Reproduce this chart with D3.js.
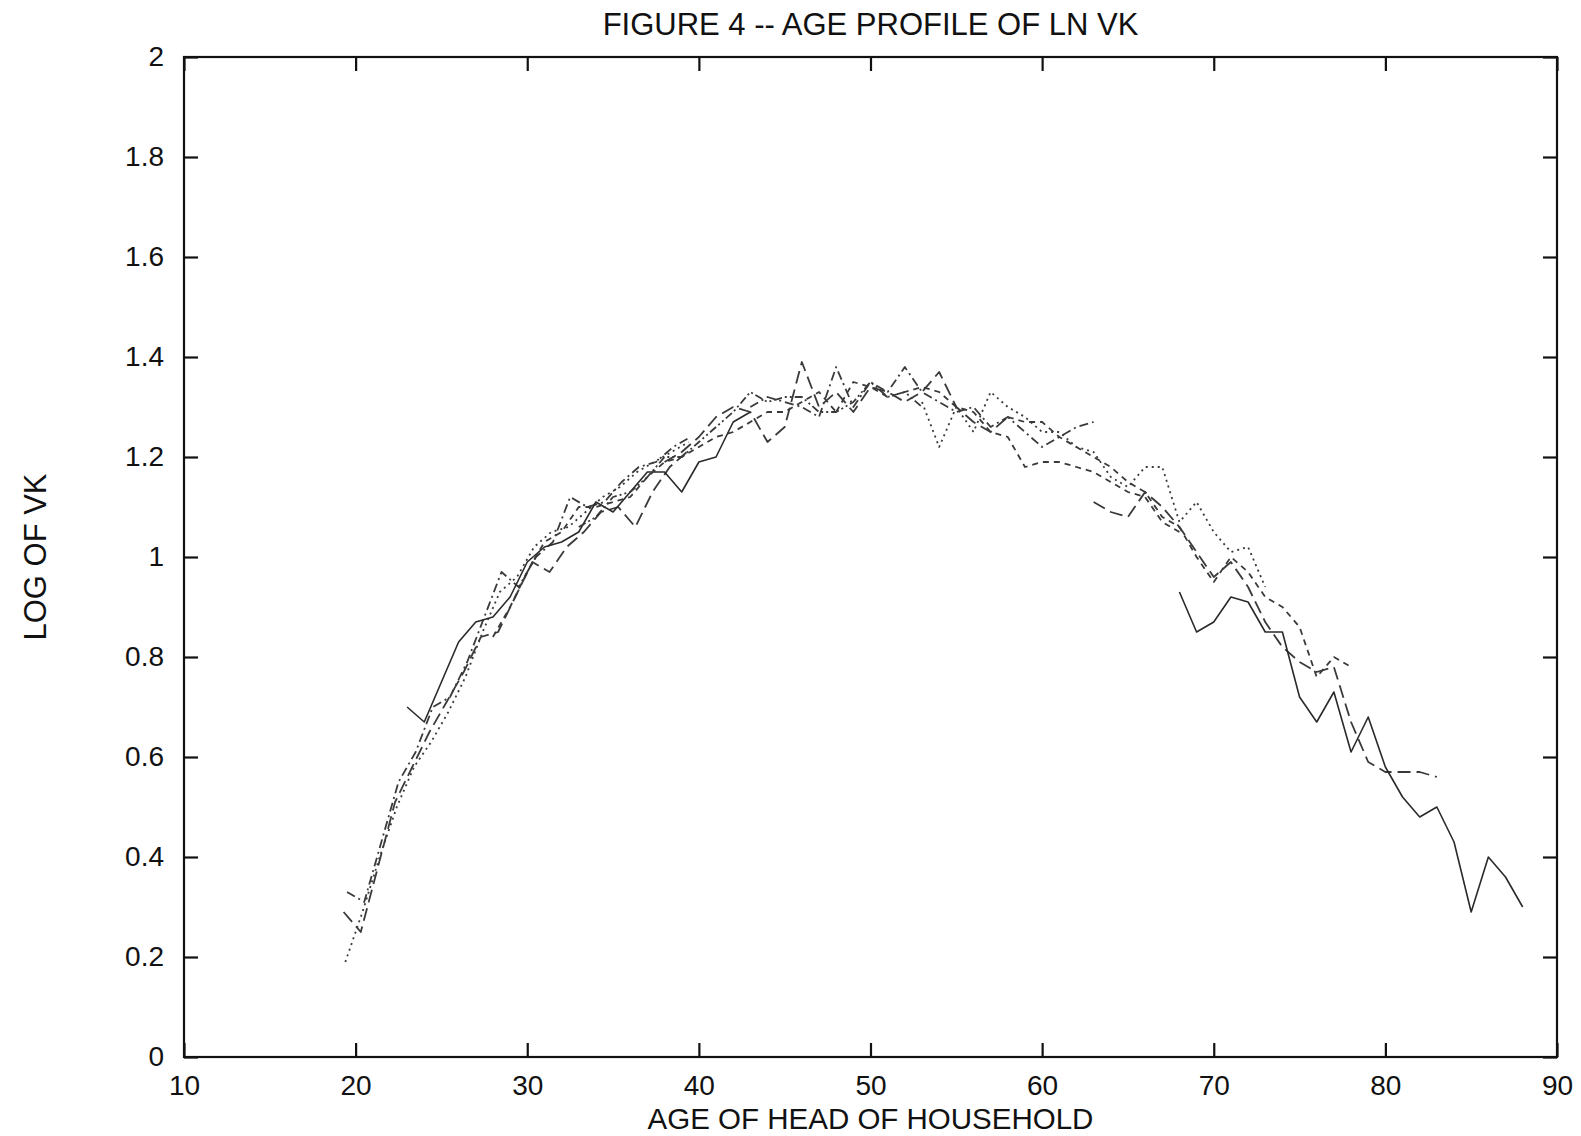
<!DOCTYPE html>
<html>
<head>
<meta charset="utf-8">
<script src="https://cdn.jsdelivr.net/npm/d3@7"></script>
<style>
  html, body { margin: 0; padding: 0; background: #fff; }
  svg { display: block; }
  text { font-family: "Liberation Sans", Arial, sans-serif; fill: #111; }
</style>
</head>
<body>
<svg id="chart" width="1581" height="1136"></svg>
<script>
// ---- data ----
const titleText = "FIGURE 4 -- AGE PROFILE OF LN VK";
const xLabel = "AGE OF HEAD OF HOUSEHOLD";
const yLabel = "LOG OF VK";
const xTicks = [10, 20, 30, 40, 50, 60, 70, 80, 90];
const yTicks = [0, 0.2, 0.4, 0.6, 0.8, 1, 1.2, 1.4, 1.6, 1.8, 2];

// first age of each cohort profile (one point per year after that)
const cohortStartAge = [19.4, 19.5, 19.3, 23, 28, 33, 38, 43, 48, 53, 58, 63, 68];

const cohort1  = [0.19,0.29,0.40,0.50,0.58,0.63,0.69,0.76,0.85,0.93,0.96,1.02,1.05,1.06,1.09,1.12,1.14,1.17,1.19,1.21,1.23];
const cohort2  = [0.33,0.31,0.43,0.55,0.61,0.70,0.72,0.79,0.88,0.97,0.94,1.00,1.03,1.12,1.10,1.11,1.15,1.18,1.19,1.22,1.24];
const cohort3  = [0.29,0.25,0.38,0.51,0.58,0.65,0.71,0.77,0.84,0.85,0.92,0.99,0.97,1.02,1.05,1.09,1.10,1.06,1.13,1.18,1.21];
const cohort4  = [0.70,0.67,0.75,0.83,0.87,0.88,0.92,0.99,1.02,1.03,1.05,1.11,1.09,1.13,1.17,1.17,1.13,1.19,1.20,1.27,1.29];
const cohort5  = [0.84,0.90,0.97,1.03,1.05,1.10,1.10,1.11,1.12,1.16,1.19,1.20,1.22,1.24,1.25,1.27,1.29,1.29,1.31,1.33,1.29];
const cohort6  = [1.06,1.08,1.12,1.13,1.16,1.20,1.20,1.23,1.26,1.29,1.33,1.31,1.32,1.32,1.29,1.29,1.31,1.35,1.32,1.33,1.30];
const cohort7  = [1.19,1.21,1.24,1.28,1.30,1.29,1.23,1.26,1.39,1.30,1.33,1.29,1.34,1.33,1.31,1.33,1.37,1.30,1.27,1.25,1.28];
const cohort8  = [1.30,1.32,1.31,1.30,1.28,1.38,1.30,1.35,1.33,1.38,1.33,1.31,1.29,1.30,1.26,1.28,1.25,1.22,1.24,1.26,1.27];
const cohort9  = [1.29,1.35,1.34,1.32,1.33,1.34,1.33,1.30,1.29,1.25,1.24,1.18,1.19,1.19,1.18,1.17,1.15,1.13,1.12,1.07,1.05];
const cohort10 = [1.31,1.22,1.30,1.25,1.33,1.30,1.28,1.25,1.25,1.22,1.21,1.16,1.14,1.18,1.18,1.07,1.11,1.05,1.01,1.02,0.94];
const cohort11 = [1.28,1.27,1.27,1.24,1.22,1.20,1.18,1.15,1.13,1.08,1.06,1.00,0.95,1.00,0.97,0.92,0.90,0.86,0.76,0.80,0.78];
const cohort12 = [1.11,1.09,1.08,1.13,1.10,1.06,1.01,0.96,0.99,0.94,0.87,0.82,0.79,0.77,0.78,0.67,0.59,0.57,0.57,0.57,0.56];
const cohort13 = [0.93,0.85,0.87,0.92,0.91,0.85,0.85,0.72,0.67,0.73,0.61,0.68,0.58,0.52,0.48,0.50,0.43,0.29,0.40,0.36,0.30];

const cohortValues = [cohort1, cohort2, cohort3, cohort4, cohort5, cohort6, cohort7,
                      cohort8, cohort9, cohort10, cohort11, cohort12, cohort13];

// ---- styles (kept apart from the data) ----
const DOT = "2,4", DASHDOT = "9,4,2,4", LONG = "13,6", SHORT = "6,5", DDD = "8,3,2,3,2,3", SOLID = null;
const lineDash = [DOT, DASHDOT, LONG, SOLID, SHORT, DDD, LONG, DASHDOT, SHORT, DOT, SHORT, LONG, SOLID];

// ---- layout ----
const L = 184, R = 1557, T = 57, B = 1057;
const svg = d3.select("#chart");

const x = d3.scaleLinear().domain([10, 90]).range([L, R]);
const y = d3.scaleLinear().domain([0, 2]).range([B, T]);

// series
const line = d3.line().x(d => x(d[0])).y(d => y(d[1]));
const series = cohortValues.map((vals, i) => vals.map((v, j) => [cohortStartAge[i] + j, v]));

svg.append("g").selectAll("path").data(series).join("path")
  .attr("d", line)
  .attr("fill", "none")
  .attr("stroke", (d, i) => lineDash[i] ? "#3a3a3a" : "#2a2a2a")
  .attr("stroke-width", (d, i) => lineDash[i] ? 1.8 : 1.6)
  .attr("stroke-dasharray", (d, i) => lineDash[i])
  .attr("stroke-linejoin", "round");

// axes
const tickFont = 28;
const gx = svg.append("g").attr("transform", `translate(0,${B})`)
  .call(d3.axisBottom(x).tickValues(xTicks).tickSizeInner(-14).tickSizeOuter(0).tickPadding(18).tickFormat(d3.format("d")));
const gy = svg.append("g").attr("transform", `translate(${L},0)`)
  .call(d3.axisLeft(y).tickValues(yTicks).tickSizeInner(-14).tickSizeOuter(0).tickPadding(20).tickFormat(d => d3.format("")(+d.toFixed(1))));
const gt = svg.append("g").attr("transform", `translate(0,${T})`)
  .call(d3.axisTop(x).tickValues(xTicks).tickSizeInner(-14).tickSizeOuter(0).tickFormat(""));
const gr = svg.append("g").attr("transform", `translate(${R},0)`)
  .call(d3.axisRight(y).tickValues(yTicks).tickSizeInner(-14).tickSizeOuter(0).tickFormat(""));

[gx, gy, gt, gr].forEach(g => {
  g.select(".domain").remove();
  g.selectAll(".tick line").attr("stroke", "#111").attr("stroke-width", 2.2);
  g.selectAll(".tick text").attr("font-size", tickFont).attr("fill", "#111")
    .attr("font-family", '"Liberation Sans", Arial, sans-serif');
});

svg.append("rect").attr("x", L).attr("y", T).attr("width", R - L).attr("height", B - T)
  .attr("fill", "none").attr("stroke", "#111").attr("stroke-width", 2.2);

// titles
svg.append("text").attr("x", (L + R) / 2).attr("y", 35).attr("text-anchor", "middle")
  .attr("font-size", 31).text(titleText);
svg.append("text").attr("x", (L + R) / 2).attr("y", 1129).attr("text-anchor", "middle")
  .attr("font-size", 29.5).text(xLabel);
svg.append("text").attr("transform", `translate(46,${(T + B) / 2}) rotate(-90)`)
  .attr("text-anchor", "middle").attr("font-size", 31).text(yLabel);
</script>
</body>
</html>
